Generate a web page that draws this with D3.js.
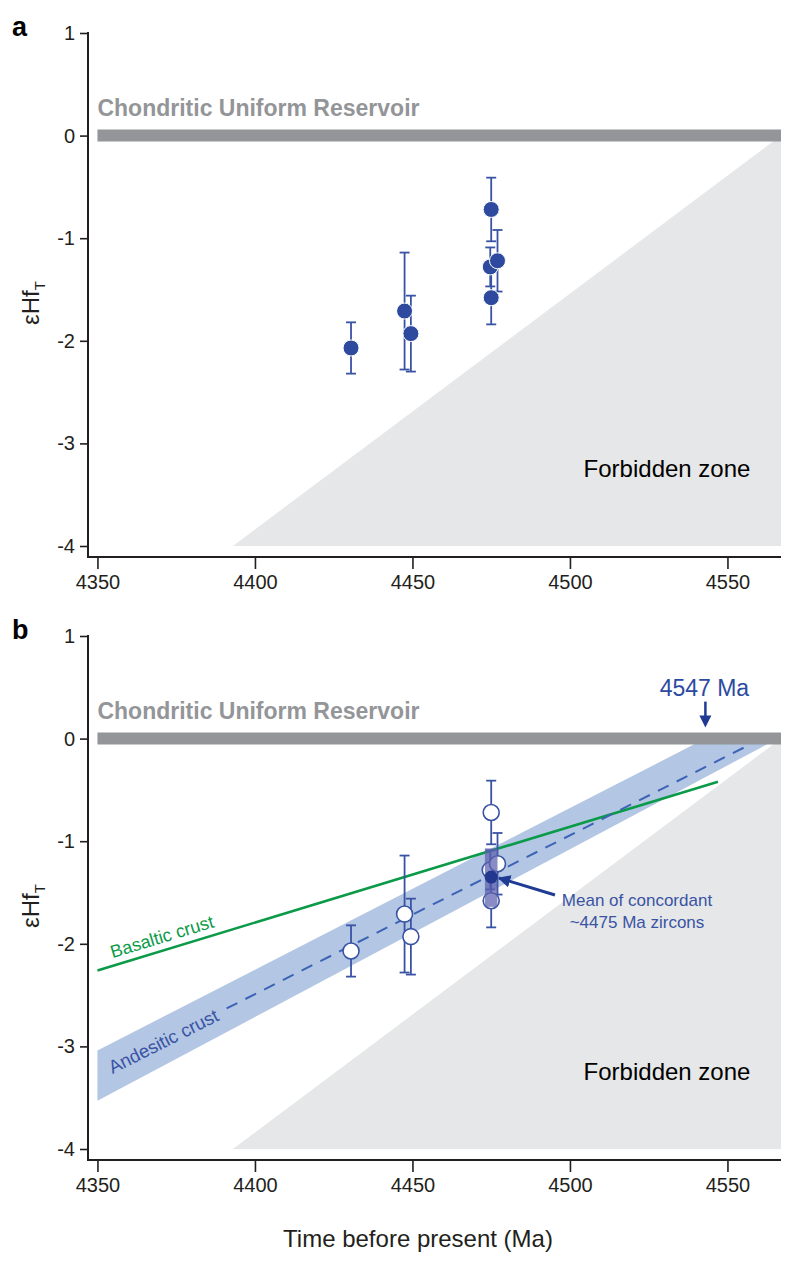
<!DOCTYPE html>
<html>
<head>
<meta charset="utf-8">
<script src="https://cdn.jsdelivr.net/npm/d3@7"></script>
<style>
  html, body { margin: 0; padding: 0; background: #fff; }
  svg text { font-family: "Liberation Sans", Arial, Helvetica, sans-serif; }
</style>
</head>
<body>
<div id="chart"></div>
<script>
// ---------------- data ----------------
const ages   = [4430.5, 4447.5, 4449.5, 4475, 4474.7, 4477, 4475];   // Ma
const eHf    = [-2.07, -1.71, -1.93, -0.72, -1.28, -1.22, -1.58];
const err2s  = [0.25, 0.57, 0.37, 0.31, 0.19, 0.30, 0.26];
const xTicks = [4350, 4400, 4450, 4500, 4550];
const yTicks = [1, 0, -1, -2, -3, -4];
const xDomain = [4347, 4567];
const yDomain = [1, -4];
const churLine = [[4350, 0], [4567, 0]];
const forbiddenZone = [[4567, 0], [4567, -4], [4393, -4]];
const basaltLine = [[4350, -2.26], [4547, -0.42]];
const andesiteCentre = [[4391, -2.63], [4557, -0.06]];
const andesiteBand = [[4350, -3.04], [4543, 0], [4566, 0], [4350, -3.53]];
const meanAge = 4475, meanEHf = -1.35, meanLow = -1.64, meanHigh = -1.07, meanAgeHalf = 2;
const modelAge = 4543;  // where the "4547 Ma" arrow points

// ---------------- layout ----------------
const W = 800, H = 1269;
const svg = d3.select("#chart").append("svg").attr("width", W).attr("height", H);
const x = d3.scaleLinear().domain(xDomain).range([88, 781]);

const C = {
  axis: "#231f20", chur: "#939598", forb: "#e6e7e8", blue: "#3953a4",
  dot: "#2e4a9e", band: "#b3c6e3", green: "#0a9a48", dash: "#3c63b5",
  dark: "#1f3b94"
};

function panel(off, label, isB) {
  const y = d3.scaleLinear().domain(yDomain).range([33 + off, 546 + off]);
  const g = svg.append("g");
  const line = d3.line().x(d => x(d[0])).y(d => y(d[1]));

  // forbidden zone
  g.append("path").attr("d", line(forbiddenZone) + "Z").attr("fill", C.forb);
  g.append("text").attr("x", 667).attr("y", y(-3.25) + 8)
    .attr("text-anchor", "middle").attr("font-size", 24).attr("fill", "#000")
    .text("Forbidden zone");

  if (isB) {
    g.append("path").attr("d", line(andesiteBand) + "Z").attr("fill", C.band);
    g.append("path").attr("d", line(basaltLine)).attr("stroke", C.green)
      .attr("stroke-width", 2.6).attr("fill", "none");
    g.append("path").attr("d", line(andesiteCentre)).attr("stroke", C.dash)
      .attr("stroke-width", 2).attr("stroke-dasharray", "12,9").attr("fill", "none");
    const ang = (p) => Math.atan2(y(p[1][1]) - y(p[0][1]), x(p[1][0]) - x(p[0][0])) * 180 / Math.PI;
    g.append("text").attr("transform", `translate(${x(4354.8)},${y(-2.14)}) rotate(${ang(basaltLine)})`)
      .attr("font-size", 18).attr("fill", C.green).text("Basaltic crust");
    g.append("text").attr("transform", `translate(${x(4354.8)},${y(-3.27)}) rotate(${ang(andesiteCentre)})`)
      .attr("font-size", 18.5).attr("fill", C.blue).text("Andesitic crust");
  }

  // CHUR bar
  g.append("path").attr("d", line(churLine)).attr("stroke", C.chur)
    .attr("stroke-width", 12).attr("fill", "none");
  g.append("text").attr("x", x(4350)).attr("y", y(0) - 20)
    .attr("font-size", 23).attr("font-weight", "bold").attr("fill", C.chur)
    .text("Chondritic Uniform Reservoir");

  // error bars
  const idx = d3.range(ages.length);
  const eb = g.append("g").attr("stroke", C.blue).attr("stroke-width", 1.8).attr("fill", "none");
  idx.forEach(i => {
    const cx = x(ages[i]), t = y(eHf[i] + err2s[i]), b = y(eHf[i] - err2s[i]);
    eb.append("line").attr("x1", cx).attr("x2", cx).attr("y1", t).attr("y2", b);
    eb.append("line").attr("x1", cx - 5).attr("x2", cx + 5).attr("y1", t).attr("y2", t);
    eb.append("line").attr("x1", cx - 5).attr("x2", cx + 5).attr("y1", b).attr("y2", b);
  });
  // points
  g.append("g").selectAll("circle").data(idx).join("circle")
    .attr("cx", i => x(ages[i])).attr("cy", i => y(eHf[i])).attr("r", 8)
    .attr("fill", isB ? "#fff" : C.dot)
    .attr("stroke", isB ? C.blue : "#fff")
    .attr("stroke-width", isB ? 1.6 : 1);

  if (isB) {
    g.append("rect").attr("x", x(meanAge - meanAgeHalf)).attr("width", x(meanAge + meanAgeHalf) - x(meanAge - meanAgeHalf))
      .attr("y", y(meanHigh)).attr("height", y(meanLow) - y(meanHigh))
      .attr("fill", "#5b60ad").attr("opacity", 0.72);
    g.append("circle").attr("cx", x(meanAge)).attr("cy", y(meanEHf)).attr("r", 6.5).attr("fill", "#24378f");

    // arrow to mean
    const defs = svg.append("defs");
    defs.append("marker").attr("id", "ah").attr("viewBox", "0 0 10 10").attr("refX", 9).attr("refY", 5)
      .attr("markerWidth", 4.2).attr("markerHeight", 4.2).attr("orient", "auto")
      .append("path").attr("d", "M0,0L10,5L0,10Z").attr("fill", C.dark);
    g.append("line").attr("x1", 555).attr("y1", 895).attr("x2", 499).attr("y2", 878)
      .attr("stroke", C.dark).attr("stroke-width", 3).attr("marker-end", "url(#ah)");
    g.append("text").attr("x", 637).attr("y", 906).attr("text-anchor", "middle")
      .attr("font-size", 17).attr("fill", C.blue).text("Mean of concordant");
    g.append("text").attr("x", 637).attr("y", 928).attr("text-anchor", "middle")
      .attr("font-size", 17).attr("fill", C.blue).text("~4475 Ma zircons");

    // 4547 Ma arrow
    const ax = x(modelAge);
    g.append("line").attr("x1", ax).attr("x2", ax).attr("y1", y(0) - 37).attr("y2", y(0) - 22)
      .attr("stroke", C.dark).attr("stroke-width", 2.5);
    g.append("path").attr("d", `M${ax - 6},${y(0) - 23}L${ax + 6},${y(0) - 23}L${ax},${y(0) - 11}Z`).attr("fill", C.dark);
    g.append("text").attr("x", ax - 1).attr("y", y(0) - 43).attr("text-anchor", "middle")
      .attr("font-size", 23).attr("fill", "#2b4aa0").text("4547 Ma");
  }

  // axes
  const xAxisY = 557 + off;
  const ya = g.append("g").attr("transform", "translate(88,0)")
    .call(d3.axisLeft(y).tickValues(yTicks).tickSize(8).tickSizeOuter(0).tickPadding(5).tickFormat(d3.format("d")));
  ya.select(".domain").remove();
  ya.selectAll(".tick line").attr("stroke", C.axis).attr("stroke-width", 1.6);
  ya.selectAll(".tick text").attr("font-size", 20).attr("fill", C.axis)
    .attr("font-family", "'Liberation Sans', Arial, sans-serif").text(d => d < 0 ? "-" + Math.abs(d) : d);
  g.append("line").attr("x1", 88).attr("x2", 88).attr("y1", y(1) - 1).attr("y2", xAxisY)
    .attr("stroke", C.axis).attr("stroke-width", 2);

  const xa = g.append("g").attr("transform", `translate(0,${xAxisY})`)
    .call(d3.axisBottom(x).tickValues(xTicks).tickSize(12).tickSizeOuter(0).tickPadding(6).tickFormat(d3.format("d")));
  xa.select(".domain").remove();
  xa.selectAll(".tick line").attr("stroke", C.axis).attr("stroke-width", 1.6);
  xa.selectAll(".tick text").attr("font-size", 20).attr("fill", C.axis)
    .attr("font-family", "'Liberation Sans', Arial, sans-serif");
  g.append("line").attr("x1", 87).attr("x2", 781).attr("y1", xAxisY).attr("y2", xAxisY)
    .attr("stroke", C.axis).attr("stroke-width", 2);

  // y label
  const yl = g.append("text").attr("transform", `translate(39,${303 + off}) rotate(-90)`)
    .attr("text-anchor", "middle").attr("font-size", 24).attr("fill", C.axis);
  yl.append("tspan").text("εHf");
  yl.append("tspan").attr("font-size", 15).attr("dy", 6).text("T");

  // panel label
  g.append("text").attr("x", 12).attr("y", 36 + off).attr("font-size", 27)
    .attr("font-weight", "bold").attr("fill", "#000").text(label);
}

panel(0, "a", false);
panel(603, "b", true);

svg.append("text").attr("x", 418).attr("y", 1247).attr("text-anchor", "middle")
  .attr("font-size", 24).attr("fill", C.axis).text("Time before present (Ma)");
</script>
</body>
</html>
